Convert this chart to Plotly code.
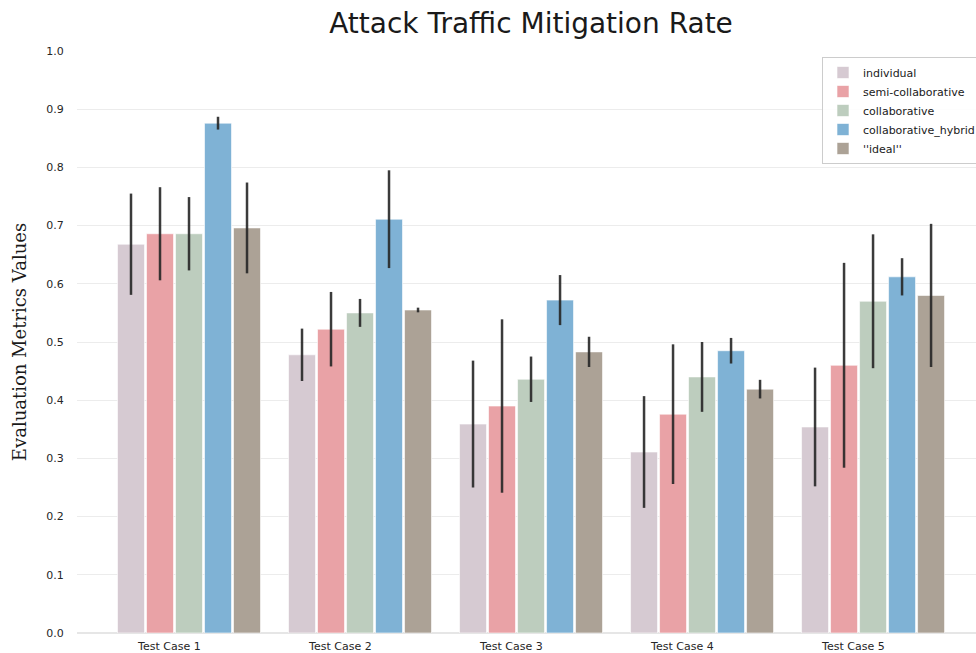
import plotly.graph_objects as go

# Test cases on the x axis
categories = ["Test Case 1", "Test Case 2", "Test Case 3", "Test Case 4", "Test Case 5"]

# Mean mitigation rate per strategy and its spread
individual = [0.668, 0.478, 0.359, 0.311, 0.354]
individual_err = [0.087, 0.045, 0.109, 0.096, 0.102]

semi_collaborative = [0.686, 0.522, 0.390, 0.376, 0.460]
semi_collaborative_err = [0.080, 0.064, 0.149, 0.120, 0.176]

collaborative = [0.686, 0.550, 0.436, 0.440, 0.570]
collaborative_err = [0.063, 0.024, 0.039, 0.060, 0.115]

collaborative_hybrid = [0.876, 0.711, 0.572, 0.485, 0.612]
collaborative_hybrid_err = [0.011, 0.084, 0.043, 0.022, 0.032]

ideal = [0.696, 0.555, 0.483, 0.419, 0.580]
ideal_err = [0.078, 0.004, 0.026, 0.016, 0.123]

y_ticks = [0.0, 0.1, 0.2, 0.3, 0.4, 0.5, 0.6, 0.7, 0.8, 0.9, 1.0]

series = [
    ("individual", individual, individual_err, "#d6cad2"),
    ("semi-collaborative", semi_collaborative, semi_collaborative_err, "#e9a2a6"),
    ("collaborative", collaborative, collaborative_err, "#bdcdbe"),
    ("collaborative_hybrid", collaborative_hybrid, collaborative_hybrid_err, "#7fb2d5"),
    ("''ideal''", ideal, ideal_err, "#aca296"),
]

positions = list(range(len(categories)))

fig = go.Figure()
for name, vals, errs, color in series:
    fig.add_trace(go.Bar(
        name=name,
        x=positions,
        y=vals,
        marker=dict(color=color, line=dict(color="rgba(255,255,255,0.6)", width=1)),
        error_y=dict(type="data", array=errs, visible=True, thickness=2.5,
                     width=0, color="rgba(38,38,38,0.9)"),
    ))

fig.update_layout(
    width=976,
    height=653,
    barmode="group",
    bargap=0.152,
    bargroupgap=0.07,
    paper_bgcolor="white",
    plot_bgcolor="white",
    margin=dict(l=77, r=0, t=51, b=20, autoexpand=False),
    title=dict(
        text="Attack Traffic Mitigation Rate",
        x=(531 - 77) / 899, xref="paper", xanchor="center",
        y=1 - 23 / 653, yanchor="middle",
        font=dict(family="DejaVu Sans", size=28, color="#1a1a1a"),
    ),
    font=dict(family="DejaVu Sans", size=11, color="#333333"),
    showlegend=True,
    legend=dict(
        x=(822 - 77) / 899, xanchor="left",
        y=(633 - 57) / 582, yanchor="top",
        bgcolor="rgba(255,255,255,0.9)",
        bordercolor="#cccccc",
        borderwidth=1,
        font=dict(family="DejaVu Sans", size=11, color="#1a1a1a"),
        traceorder="normal",
    ),
    xaxis=dict(
        range=[-0.655, 4.602],
        tickmode="array",
        tickvals=[p - 0.115 for p in positions],
        ticktext=categories,
        showgrid=False,
        zeroline=False,
        showline=False,
        ticks="outside", ticklen=3, tickcolor="rgba(0,0,0,0)",
        tickfont=dict(family="DejaVu Sans", size=11, color="#262626"),
        automargin=False,
    ),
    yaxis=dict(
        range=[0, 1.0],
        tickmode="array",
        tickvals=y_ticks,
        ticktext=[f"{v:.1f}" for v in y_ticks],
        showgrid=True,
        gridcolor="#ececec",
        gridwidth=1,
        zeroline=True,
        zerolinecolor="#e6e6e6",
        showline=False,
        ticks="outside", ticklen=10, tickcolor="rgba(0,0,0,0)",
        tickfont=dict(family="DejaVu Sans", size=11, color="#262626"),
        title=dict(
            text="Evaluation Metrics Values",
            font=dict(family="DejaVu Serif", size=18, color="#1a1a1a"),
            standoff=14,
        ),
        automargin=False,
    ),
)

fig.write_html("out.html")
